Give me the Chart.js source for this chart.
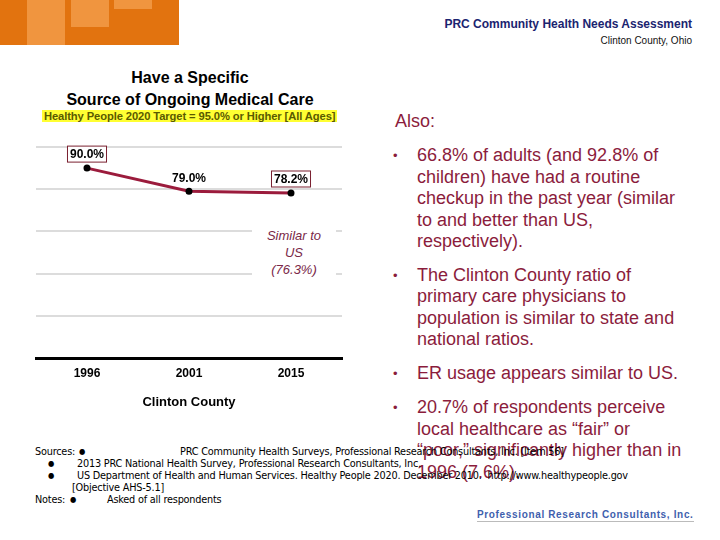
<!DOCTYPE html>
<html>
<head>
<meta charset="utf-8">
<script src="https://cdn.jsdelivr.net/npm/chart.js@4.4.0/dist/chart.umd.min.js"></script>
<style>
  body { margin: 0; width: 720px; height: 540px; position: relative; background: #fff; font-family: "Liberation Sans", Arial, sans-serif; overflow: hidden; }
  .abs { position: absolute; }
  .maroon { color: #8b1c3c; }
  .foot { font-family: "Liberation Sans Narrow", "DejaVu Sans Condensed", sans-serif; font-size: 10.8px; color: #000; white-space: nowrap; letter-spacing: -0.2px; }
  .dot { font-size: 8px; }
  .bl { position: relative; padding-left: 24px; }
  .bl span { position: absolute; left: 0; font-size: 13px; }
</style>
</head>
<body>
<!-- orange header block -->
<div class="abs" style="left:0;top:0;width:179px;height:45px;background:#e2730f;"></div>
<div class="abs" style="left:27px;top:0;width:38px;height:45px;background:#f0953f;"></div>
<div class="abs" style="left:71px;top:0;width:38px;height:27px;background:#f0953f;"></div>
<div class="abs" style="left:114px;top:0;width:38px;height:9px;background:#f0953f;"></div>

<div class="abs" style="right:28px;top:17px;font-size:12px;font-weight:bold;color:#1b2470;">PRC Community Health Needs Assessment</div>
<div class="abs" style="right:28px;top:35px;font-size:10px;color:#111;">Clinton County, Ohio</div>

<div class="abs" style="left:0;width:380px;top:67px;text-align:center;font-size:16px;font-weight:bold;line-height:22px;">Have a Specific<br>Source of Ongoing Medical Care</div>
<div class="abs" style="left:42px;top:110px;font-size:11.2px;font-weight:bold;color:#5a5a00;background:#ffff33;padding:0 2px;letter-spacing:-0.1px;">Healthy People 2020 Target = 95.0% or Higher [All Ages]</div>

<canvas id="myChart" class="abs" style="left:0;top:0;"></canvas>

<div class="abs" style="left:252px;top:227px;width:84px;text-align:center;font-size:13px;font-style:italic;line-height:17px;color:#7a2848;background:#fff;">Similar to<br>US<br>(76.3%)</div>

<!-- right side text -->
<div class="abs maroon" style="left:395px;top:111px;font-size:18px;">Also:</div>
<div class="abs maroon" style="left:393px;top:145px;width:290px;font-size:18px;line-height:21.5px;">
  <div class="bl"><span>•</span>66.8% of adults (and 92.8% of children) have had a routine checkup in the past year (similar to and better than US, respectively).</div>
  <div class="bl" style="margin-top:12px;"><span>•</span>The Clinton County ratio of primary care physicians to population is similar to state and national ratios.</div>
  <div class="bl" style="margin-top:12.5px;"><span>•</span>ER usage appears similar to US.</div>
  <div class="bl" style="margin-top:12.5px;"><span>•</span>20.7% of respondents perceive local healthcare as “fair” or “poor,” significantly higher than in 1996 (7.6%).</div>
</div>

<!-- footer -->
<div class="abs foot" style="left:35px;top:445px;">Sources:</div>
<div class="abs foot dot" style="left:79px;top:447px;">●</div>
<div class="abs foot" style="left:180px;top:445px;">PRC Community Health Surveys, Professional Research Consultants, Inc. [Item 56]</div>
<div class="abs foot dot" style="left:48px;top:459px;">●</div>
<div class="abs foot" style="left:77px;top:457px;">2013 PRC National Health Survey, Professional Research Consultants, Inc.</div>
<div class="abs foot dot" style="left:48px;top:471px;">●</div>
<div class="abs foot" style="left:77px;top:469px;">US Department of Health and Human Services. Healthy People 2020. December 2010.&nbsp; http://www.healthypeople.gov</div>
<div class="abs foot" style="left:72px;top:481px;">[Objective AHS-5.1]</div>
<div class="abs foot" style="left:35px;top:493px;">Notes:</div>
<div class="abs foot dot" style="left:70px;top:495px;">●</div>
<div class="abs foot" style="left:107px;top:493px;">Asked of all respondents</div>

<div class="abs" style="left:477px;top:509px;font-size:10px;font-weight:bold;color:#3f5fae;letter-spacing:0.65px;border-bottom:1px solid #bbb;padding-bottom:1px;">Professional Research Consultants, Inc.</div>

<script>
// CHART DATA
const years = ["1996", "2001", "2015"];
const clintonValues = [90.0, 79.0, 78.2];
const boxedLabels = [true, false, true];
const yTicks = [0, 20, 40, 60, 80, 100];

// LABELS ABOVE POINTS
const pointLabels = {
  id: "pointLabels",
  afterDatasetsDraw(chart) {
    const c = chart.ctx;
    const meta = chart.getDatasetMeta(0);
    c.save();
    c.font = "bold 12px 'Liberation Sans', Arial, sans-serif";
    c.textAlign = "center";
    c.textBaseline = "middle";
    meta.data.forEach((pt, i) => {
      const txt = clintonValues[i].toFixed(1) + "%";
      const x = pt.x;
      const y = pt.y - 14;
      const w = c.measureText(txt).width + 6;
      if (boxedLabels[i]) {
        c.fillStyle = "#fff";
        c.fillRect(x - w / 2, y - 8.5, w, 17);
        c.strokeStyle = "#7a2030";
        c.lineWidth = 1;
        c.strokeRect(x - w / 2 + 0.5, y - 8.5 + 0.5, w - 1, 16);
      }
      c.fillStyle = "#000";
      c.fillText(txt, x, y + 1);
    });
    c.restore();
  },
};

const ctx = document.getElementById("myChart");
ctx.width = 360;
ctx.height = 420;

new Chart(ctx, {
  type: "line",
  data: {
    labels: years,
    datasets: [
      {
        label: "Clinton County",
        data: clintonValues,
        borderColor: "#9b1b3c",
        borderWidth: 3,
        pointRadius: 2,
        pointBackgroundColor: "#000",
        pointBorderColor: "#000",
        tension: 0,
      },
    ],
  },
  options: {
    responsive: false,
    animation: false,
    layout: { padding: { left: 36, right: 18, top: 147, bottom: 6 } },
    plugins: { legend: { display: false }, tooltip: { enabled: false } },
    scales: {
      x: {
        offset: true,
        grid: { display: false, offset: true },
        border: { color: "#000", width: 3 },
        ticks: { color: "#000", font: { size: 12, weight: "bold" }, padding: 0 },
        title: { display: true, text: "Clinton County", color: "#000", font: { size: 13, weight: "bold" }, padding: { top: 14 } },
      },
      y: {
        min: 0,
        max: 100,
        afterBuildTicks: (axis) => { axis.ticks = yTicks.map((v) => ({ value: v })); },
        ticks: { display: false },
        grid: { color: "#dcdcdc", lineWidth: 2, drawTicks: false },
        border: { display: false },
      },
    },
  },
  plugins: [pointLabels],
});
</script>
</body>
</html>
